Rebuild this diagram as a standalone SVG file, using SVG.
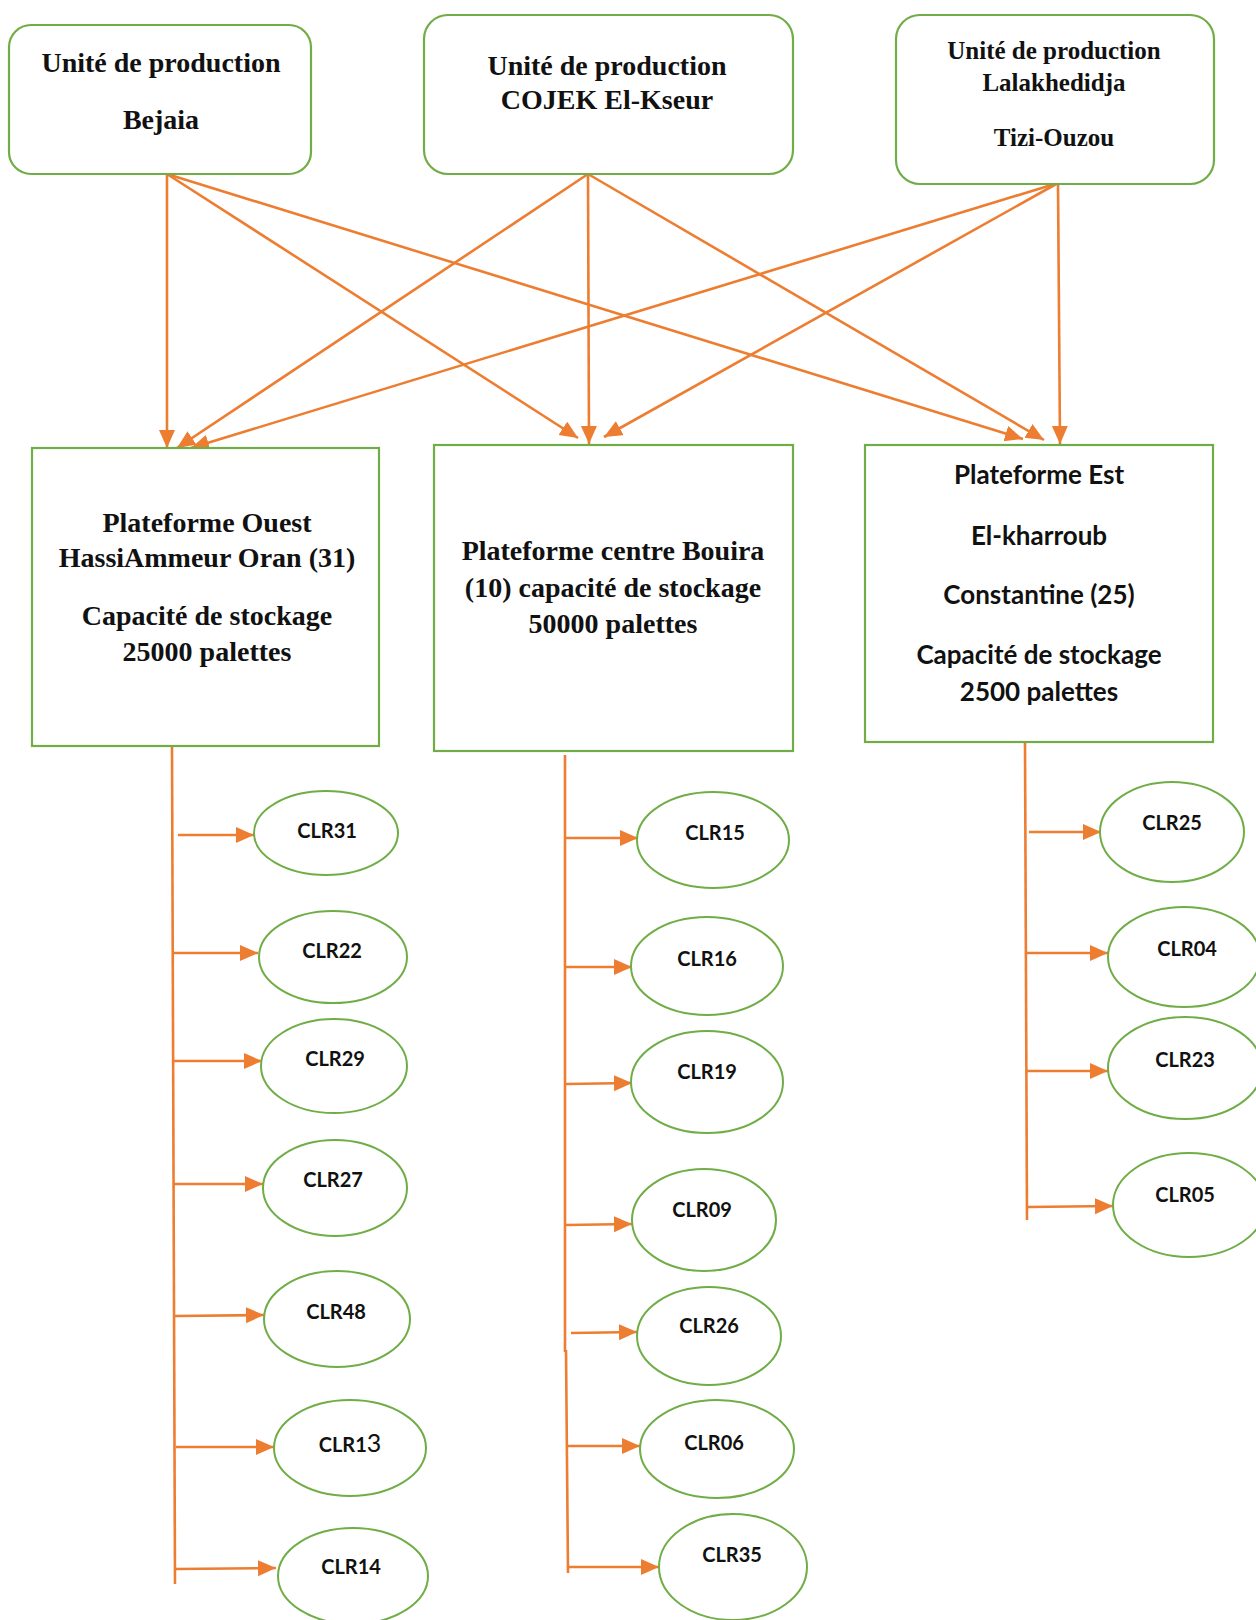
<svg xmlns="http://www.w3.org/2000/svg" width="1256" height="1620" viewBox="0 0 1256 1620">
<defs>
<marker id="ah" markerUnits="userSpaceOnUse" markerWidth="19" markerHeight="17" refX="18" refY="8" orient="auto">
<path d="M0,0 L18,8 L0,16 z" fill="#ED7D31"/>
</marker>
<style>
.box{fill:#fff;stroke:#70AD47;stroke-width:2.2}
.ell{fill:#fff;stroke:#70AD47;stroke-width:2}
.c{fill:none;stroke:#ED7D31;stroke-width:2.6}
.ca{fill:none;stroke:#ED7D31;stroke-width:2.6;marker-end:url(#ah)}
.tr{font-family:"Liberation Serif","Times New Roman",serif;font-weight:bold;font-size:28px;fill:#111;text-anchor:middle}
.tr2{font-family:"Liberation Serif","Times New Roman",serif;font-weight:bold;font-size:25px;fill:#111;text-anchor:middle}
.sa{font-family:Lato,"Liberation Sans",sans-serif;font-weight:bold;font-size:26px;fill:#111;text-anchor:middle}
.cl{font-family:Lato,"Liberation Sans",sans-serif;font-weight:bold;font-size:20px;fill:#111;text-anchor:middle}
</style>
</defs>
<rect width="1256" height="1620" fill="#fff"/>

<g id="connectors">
<line class="ca" x1="167" y1="174" x2="167" y2="448"/>
<line class="ca" x1="167" y1="174" x2="578" y2="438"/>
<line class="ca" x1="167" y1="174" x2="1023" y2="439"/>
<line class="ca" x1="588" y1="174" x2="177" y2="448"/>
<line class="ca" x1="588" y1="174" x2="589" y2="444"/>
<line class="ca" x1="588" y1="174" x2="1044" y2="440"/>
<line class="ca" x1="1058" y1="183" x2="191" y2="448"/>
<line class="ca" x1="1058" y1="183" x2="604" y2="437"/>
<line class="ca" x1="1058" y1="183" x2="1060" y2="444"/>

<path class="c" d="M172,747 L175,1584"/>
<line class="ca" x1="178" y1="835" x2="254" y2="835"/>
<line class="ca" x1="172" y1="953" x2="258" y2="953"/>
<line class="ca" x1="173" y1="1061" x2="262" y2="1061"/>
<line class="ca" x1="174" y1="1184" x2="263" y2="1184"/>
<line class="ca" x1="175" y1="1316" x2="264" y2="1315"/>
<line class="ca" x1="176" y1="1447" x2="274" y2="1447"/>
<line class="ca" x1="176" y1="1569" x2="276" y2="1568"/>

<path class="c" d="M565,755 L565,1352 M566,1350 L568,1573"/>
<line class="ca" x1="566" y1="838" x2="638" y2="838"/>
<line class="ca" x1="566" y1="967" x2="632" y2="967"/>
<line class="ca" x1="566" y1="1084" x2="632" y2="1083"/>
<line class="ca" x1="566" y1="1225" x2="632" y2="1224"/>
<line class="ca" x1="571" y1="1333" x2="637" y2="1332"/>
<line class="ca" x1="567" y1="1446" x2="640" y2="1446"/>
<line class="ca" x1="568" y1="1567" x2="659" y2="1567"/>

<path class="c" d="M1025,742 L1027,1220"/>
<line class="ca" x1="1029" y1="832" x2="1101" y2="832"/>
<line class="ca" x1="1026" y1="953" x2="1108" y2="953"/>
<line class="ca" x1="1026" y1="1071" x2="1108" y2="1071"/>
<line class="ca" x1="1028" y1="1207" x2="1113" y2="1206"/>
</g>

<g id="prod-bejaia">
<rect class="box" x="9" y="25" width="302" height="149" rx="22"/>
<text class="tr" x="161" y="72">Unité de production</text>
<text class="tr" x="161" y="129">Bejaia</text>
</g>
<g id="prod-cojek">
<rect class="box" x="424" y="15" width="369" height="159" rx="24"/>
<text class="tr" x="607" y="75">Unité de production</text>
<text class="tr" x="607" y="109">COJEK El-Kseur</text>
</g>
<g id="prod-lalakhedidja">
<rect class="box" x="896" y="15" width="318" height="169" rx="24"/>
<text class="tr2" x="1054" y="59">Unité de production</text>
<text class="tr2" x="1054" y="91">Lalakhedidja</text>
<text class="tr2" x="1054" y="146">Tizi-Ouzou</text>
</g>

<g id="plateforme-ouest">
<rect class="box" x="32" y="448" width="347" height="298"/>
<text class="tr" x="207" y="532">Plateforme Ouest</text>
<text class="tr" x="207" y="567">HassiAmmeur Oran (31)</text>
<text class="tr" x="207" y="625">Capacité de stockage</text>
<text class="tr" x="207" y="661">25000 palettes</text>
</g>
<g id="plateforme-centre">
<rect class="box" x="434" y="445" width="359" height="306"/>
<text class="tr" x="613" y="560">Plateforme centre Bouira</text>
<text class="tr" x="613" y="597">(10) capacité de stockage</text>
<text class="tr" x="613" y="633">50000 palettes</text>
</g>
<g id="plateforme-est">
<rect class="box" x="865" y="445" width="348" height="297"/>
<text class="sa" x="1039" y="484">Plateforme Est</text>
<text class="sa" x="1039" y="545">El-kharroub</text>
<text class="sa" x="1039" y="604">Constantine (25)</text>
<text class="sa" x="1039" y="664">Capacité de stockage</text>
<text class="sa" x="1039" y="701">2500 palettes</text>
</g>

<g id="clr31"><ellipse class="ell" cx="326" cy="833" rx="72" ry="42"/><text class="cl" x="327" y="838">CLR31</text></g>
<g id="clr22"><ellipse class="ell" cx="333" cy="957" rx="74" ry="46"/><text class="cl" x="332" y="958">CLR22</text></g>
<g id="clr29"><ellipse class="ell" cx="334" cy="1066" rx="73" ry="47"/><text class="cl" x="335" y="1066">CLR29</text></g>
<g id="clr27"><ellipse class="ell" cx="335" cy="1188" rx="72" ry="48"/><text class="cl" x="333" y="1187">CLR27</text></g>
<g id="clr48"><ellipse class="ell" cx="337" cy="1319" rx="73" ry="48"/><text class="cl" x="336" y="1319">CLR48</text></g>
<g id="clr13"><ellipse class="ell" cx="350" cy="1448" rx="76" ry="48"/><text class="cl" x="350" y="1452">CLR1<tspan font-weight="normal" font-size="25">3</tspan></text></g>
<g id="clr14"><ellipse class="ell" cx="353" cy="1576" rx="75" ry="48"/><text class="cl" x="351" y="1574">CLR14</text></g>

<g id="clr15"><ellipse class="ell" cx="713" cy="840" rx="76" ry="48"/><text class="cl" x="715" y="840">CLR15</text></g>
<g id="clr16"><ellipse class="ell" cx="707" cy="966" rx="76" ry="49"/><text class="cl" x="707" y="966">CLR16</text></g>
<g id="clr19"><ellipse class="ell" cx="707" cy="1082" rx="76" ry="51"/><text class="cl" x="707" y="1079">CLR19</text></g>
<g id="clr09"><ellipse class="ell" cx="704" cy="1220" rx="72" ry="51"/><text class="cl" x="702" y="1217">CLR09</text></g>
<g id="clr26"><ellipse class="ell" cx="709" cy="1336" rx="72" ry="49"/><text class="cl" x="709" y="1333">CLR26</text></g>
<g id="clr06"><ellipse class="ell" cx="717" cy="1449" rx="77" ry="49"/><text class="cl" x="714" y="1450" font-size="21">CLR06</text></g>
<g id="clr35"><ellipse class="ell" cx="733" cy="1567" rx="74" ry="53"/><text class="cl" x="732" y="1562">CLR35</text></g>

<g id="clr25"><ellipse class="ell" cx="1172" cy="832" rx="72" ry="50"/><text class="cl" x="1172" y="830">CLR25</text></g>
<g id="clr04"><ellipse class="ell" cx="1184" cy="957" rx="76" ry="50"/><text class="cl" x="1187" y="956">CLR04</text></g>
<g id="clr23"><ellipse class="ell" cx="1185" cy="1068" rx="77" ry="51"/><text class="cl" x="1185" y="1067">CLR23</text></g>
<g id="clr05"><ellipse class="ell" cx="1189" cy="1205" rx="76" ry="52"/><text class="cl" x="1185" y="1202">CLR05</text></g>
</svg>
